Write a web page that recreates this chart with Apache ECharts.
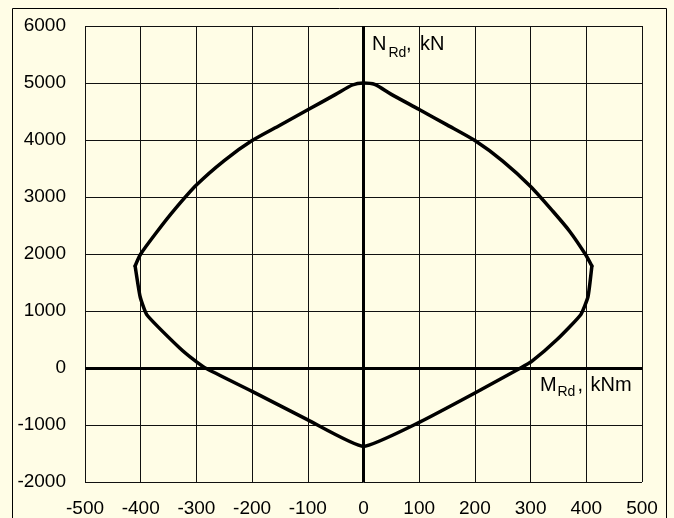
<!DOCTYPE html>
<html>
<head>
<meta charset="utf-8">
<script src="https://cdn.jsdelivr.net/npm/echarts@6/dist/echarts.min.js"></script>
<style>
  html, body { margin: 0; padding: 0; background: #fffde6; }
  #chart { width: 674px; height: 518px; }
</style>
</head>
<body>
<div id="chart"></div>
<script>
// Interaction diagram: bending resistance M_Rd (kNm) vs axial resistance N_Rd (kN)

// Compression cap: from the left extreme over the top to the right extreme
const capMoment = [-410, -400, -370, -340, -300, -250, -200, -150, -100, -50, -20, 0, 20, 50, 100, 150, 200, 250, 300, 340, 370, 398, 410];
const capAxial  = [1790, 2000, 2400, 2770, 3210, 3640, 3990, 4260, 4530, 4800, 4965, 5000, 4975, 4800, 4535, 4265, 3990, 3630, 3185, 2750, 2400, 2000, 1790];

// Lower branch: from the right extreme through the tension point back to the left extreme
const baseMoment = [410, 403, 390, 347, 302, 282, 200, 100, 0, -100, -200, -284, -305, -330, -389, -401, -410];
const baseAxial  = [1790, 1250, 935, 495, 115, 0, -440, -955, -1375, -910, -410, 0, 145, 350, 935, 1250, 1790];

const xTicks = { min: -500, max: 500, step: 100 };
const yTicks = { min: -2000, max: 6000, step: 1000 };

const FONT = "'Liberation Sans', Arial, sans-serif";

const pairs = (ms, ns) => ms.map((m, i) => [m, ns[i]]);

const chart = echarts.init(document.getElementById('chart'), null, { renderer: 'canvas' });

const curveStyle = { color: '#000', width: 3.5, join: 'round', cap: 'round' };

chart.setOption({
  backgroundColor: '#fffde6',
  animation: false,
  grid: { left: 85, right: 32, top: 26, bottom: 36 },
  xAxis: {
    type: 'value',
    min: xTicks.min, max: xTicks.max, interval: xTicks.step,
    axisLine: { show: false, onZero: false },
    axisTick: { show: false },
    axisLabel: { color: '#000', fontFamily: FONT, fontSize: 19, margin: 17, formatter: v => String(v) },
    splitLine: { show: true, lineStyle: { color: '#111', width: 1 } }
  },
  yAxis: {
    type: 'value',
    min: yTicks.min, max: yTicks.max, interval: yTicks.step,
    axisLine: { show: false, onZero: false },
    axisTick: { show: false },
    axisLabel: { color: '#000', fontFamily: FONT, fontSize: 19, margin: 19, formatter: v => String(v) },
    splitLine: { show: true, lineStyle: { color: '#111', width: 1 } }
  },
  series: [{
    type: 'line',
    data: pairs(capMoment, capAxial),
    showSymbol: false,
    smooth: 0.25,
    lineStyle: curveStyle,
    markLine: {
      silent: true,
      symbol: 'none',
      label: { show: false },
      lineStyle: { color: '#000', width: 3, type: 'solid' },
      data: [{ xAxis: 0 }, { yAxis: 0 }]
    },
    z: 3
  }, {
    type: 'line',
    data: pairs(baseMoment, baseAxial),
    showSymbol: false,
    smooth: 0.15,
    lineStyle: curveStyle,
    z: 3
  }],
  graphic: [
    { type: 'rect', shape: { x: 12.5, y: 8.5, width: 654, height: 530 },
      style: { fill: 'none', stroke: '#000', lineWidth: 1 }, silent: true },
    { type: 'text', x: 372, y: 44.5, style: { text: 'N', font: '20px ' + FONT, fill: '#000', verticalAlign: 'middle' } },
    { type: 'text', x: 388.5, y: 53, style: { text: 'Rd', font: '14px ' + FONT, fill: '#000', verticalAlign: 'middle' } },
    { type: 'text', x: 406, y: 44.5, style: { text: ',', font: '20px ' + FONT, fill: '#000', verticalAlign: 'middle' } },
    { type: 'text', x: 420, y: 44.5, style: { text: 'kN', font: '20px ' + FONT, fill: '#000', verticalAlign: 'middle' } },
    { type: 'text', x: 540, y: 385, style: { text: 'M', font: '20px ' + FONT, fill: '#000', verticalAlign: 'middle' } },
    { type: 'text', x: 557.5, y: 392.5, style: { text: 'Rd', font: '14px ' + FONT, fill: '#000', verticalAlign: 'middle' } },
    { type: 'text', x: 577.5, y: 385, style: { text: ',', font: '20px ' + FONT, fill: '#000', verticalAlign: 'middle' } },
    { type: 'text', x: 590.5, y: 385, style: { text: 'kNm', font: '20px ' + FONT, fill: '#000', verticalAlign: 'middle' } }
  ]
});
</script>
</body>
</html>
